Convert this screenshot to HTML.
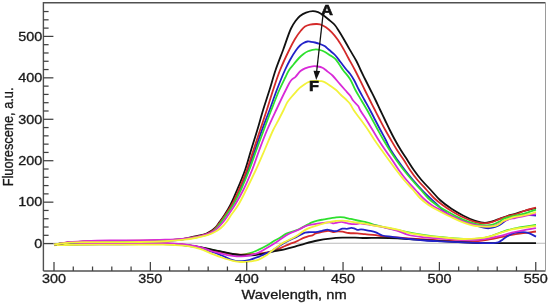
<!DOCTYPE html>
<html><head><meta charset="utf-8"><style>
html,body{margin:0;padding:0;background:#fff;}
svg{display:block;will-change:transform;}
.t{font-family:"Liberation Sans",sans-serif;font-size:12px;fill:#1a1a1a;stroke:#1a1a1a;stroke-width:0.3px;}
.t13{font-family:"Liberation Sans",sans-serif;font-size:12.8px;fill:#1a1a1a;stroke:#1a1a1a;stroke-width:0.3px;}
.b{font-family:"Liberation Sans",sans-serif;font-size:14.5px;font-weight:bold;fill:#111;stroke:#111;stroke-width:0.6px;}
</style></head><body>
<svg width="550" height="304" viewBox="0 0 550 304">
<rect width="550" height="304" fill="#fff"/>
<line x1="43.4" y1="243.25" x2="545.5" y2="243.25" stroke="#a8a8a8" stroke-width="0.8"/>
<path d="M54.00,245.14 C56.67,245.03 58.80,244.92 62.00,244.81 C66.80,244.65 73.24,244.45 80.00,244.32 C88.73,244.15 100.00,244.07 110.00,244.00 C120.00,243.93 130.77,243.92 140.00,243.90 C147.90,243.89 155.63,243.80 162.00,243.90 C166.90,243.98 170.67,244.03 175.00,244.30 C179.34,244.57 183.76,244.99 188.00,245.50 C192.09,245.99 196.11,246.58 200.00,247.30 C203.73,247.99 207.26,248.93 210.90,249.70 C214.53,250.47 218.17,251.12 221.80,251.90 C225.44,252.68 229.25,253.93 232.70,254.40 C235.74,254.82 238.52,255.00 241.40,254.80 C244.29,254.60 247.21,254.01 250.00,253.20 C252.81,252.38 255.49,251.12 258.20,249.90 C260.96,248.66 263.70,247.33 266.40,245.80 C269.20,244.21 272.27,241.89 274.70,240.50 C276.52,239.46 277.86,239.00 279.60,238.00 C281.71,236.78 283.88,234.80 286.40,233.60 C289.16,232.29 292.80,231.71 295.60,230.60 C298.07,229.62 300.26,228.48 302.40,227.40 C304.37,226.41 306.39,225.28 308.00,224.40 C309.23,223.73 309.96,223.16 311.25,222.60 C312.97,221.86 315.38,221.13 317.50,220.60 C319.63,220.07 321.88,219.79 324.00,219.40 C326.04,219.02 328.09,218.61 330.00,218.30 C331.74,218.02 333.33,217.80 335.00,217.60 C336.66,217.40 338.43,217.12 340.00,217.10 C341.41,217.08 342.62,217.18 344.00,217.40 C345.53,217.65 347.20,218.28 348.75,218.60 C350.20,218.90 351.57,218.99 353.00,219.30 C354.49,219.62 355.80,220.13 357.50,220.50 C359.67,220.98 362.77,221.27 365.00,221.80 C366.85,222.24 368.27,222.76 370.00,223.30 C371.89,223.89 373.50,224.53 375.90,225.20 C379.58,226.22 384.97,227.38 390.00,228.50 C395.76,229.78 402.58,231.27 408.60,232.40 C414.23,233.45 419.49,234.30 425.00,235.10 C430.56,235.90 435.83,236.59 441.80,237.20 C448.59,237.89 456.85,238.74 463.60,238.90 C469.45,239.04 475.32,238.94 480.00,238.40 C483.56,237.99 486.09,237.40 489.30,236.50 C492.89,235.50 496.74,233.75 500.50,232.50 C504.25,231.25 508.01,229.95 511.80,229.00 C515.54,228.06 519.20,227.45 523.10,226.80 C527.25,226.11 531.70,225.60 536.00,225.00" fill="none" stroke="#2ee02e" stroke-width="1.8" stroke-linejoin="round" stroke-linecap="butt"/>
<path d="M54.00,245.06 C56.67,244.94 58.80,244.82 62.00,244.69 C66.80,244.50 73.24,244.25 80.00,244.08 C88.73,243.86 100.00,243.70 110.00,243.60 C120.00,243.50 130.77,243.52 140.00,243.50 C147.90,243.49 155.63,243.40 162.00,243.50 C166.90,243.58 170.67,243.63 175.00,243.90 C179.34,244.17 183.77,244.50 188.00,245.10 C192.09,245.68 196.10,246.60 200.00,247.40 C203.73,248.17 207.26,249.03 210.90,249.80 C214.53,250.57 218.17,251.27 221.80,252.00 C225.43,252.73 229.26,253.78 232.70,254.20 C235.75,254.58 238.51,254.55 241.40,254.60 C244.27,254.65 247.39,254.62 250.00,254.50 C252.18,254.40 253.98,254.21 256.00,254.00 C258.08,253.78 260.07,253.56 262.30,253.20 C264.86,252.79 267.78,252.34 270.50,251.60 C273.29,250.85 276.31,249.68 278.80,248.70 C280.90,247.88 282.62,247.02 284.50,246.20 C286.35,245.39 288.15,244.53 290.00,243.80 C291.85,243.07 293.83,242.54 295.60,241.80 C297.26,241.10 298.73,240.24 300.30,239.50 C301.86,238.77 303.60,237.97 305.00,237.40 C306.10,236.95 306.89,236.63 308.00,236.30 C309.34,235.91 311.25,235.80 312.50,235.30 C313.49,234.90 314.14,234.19 315.00,233.80 C315.81,233.43 316.54,233.28 317.50,233.00 C318.78,232.63 320.45,232.13 322.00,231.80 C323.61,231.46 325.54,231.09 327.00,231.00 C328.12,230.93 328.94,230.96 330.00,231.10 C331.24,231.26 332.66,231.97 334.00,232.00 C335.33,232.03 336.62,231.36 338.00,231.30 C339.45,231.24 340.88,231.46 342.50,231.70 C344.42,231.98 346.49,232.71 348.75,233.00 C351.39,233.33 354.61,233.19 357.40,233.40 C360.02,233.60 362.24,233.93 365.00,234.20 C368.31,234.53 372.89,234.76 375.90,235.20 C378.05,235.51 379.15,235.98 381.40,236.30 C384.91,236.79 390.47,237.05 395.00,237.40 C399.53,237.75 403.85,238.07 408.60,238.40 C413.81,238.77 420.03,239.18 425.00,239.50 C429.14,239.77 431.91,239.97 436.40,240.20 C442.85,240.53 452.66,241.07 460.00,241.20 C466.40,241.32 472.71,241.51 478.00,241.10 C482.22,240.77 485.55,240.05 489.30,239.40 C493.05,238.75 496.76,237.95 500.50,237.20 C504.26,236.45 508.02,235.57 511.80,234.90 C515.56,234.24 519.21,233.75 523.10,233.20 C527.26,232.61 531.70,232.07 536.00,231.50" fill="none" stroke="#d42a2a" stroke-width="1.8" stroke-linejoin="round" stroke-linecap="butt"/>
<path d="M54.00,245.10 C56.67,244.98 58.80,244.87 62.00,244.75 C66.80,244.57 73.24,244.35 80.00,244.20 C88.73,244.01 100.00,243.88 110.00,243.80 C120.00,243.72 130.77,243.72 140.00,243.70 C147.90,243.69 155.63,243.60 162.00,243.70 C166.90,243.78 170.67,243.83 175.00,244.10 C179.34,244.37 183.76,244.79 188.00,245.30 C192.09,245.79 196.11,246.38 200.00,247.10 C203.73,247.79 207.26,248.75 210.90,249.50 C214.53,250.25 218.17,250.85 221.80,251.60 C225.44,252.35 229.42,253.42 232.70,254.00 C235.37,254.48 237.51,254.77 240.00,255.00 C242.60,255.24 245.42,255.41 248.00,255.40 C250.41,255.39 252.76,255.21 255.00,255.00 C257.08,254.80 259.06,254.51 261.00,254.20 C262.85,253.91 264.42,253.63 266.40,253.20 C268.88,252.66 271.81,251.73 274.70,251.10 C277.82,250.42 281.19,250.03 284.50,249.30 C287.95,248.54 291.55,247.56 295.00,246.60 C298.38,245.66 301.47,244.57 305.00,243.60 C308.92,242.53 313.31,241.34 317.50,240.50 C321.65,239.67 325.82,239.07 330.00,238.60 C334.16,238.14 338.33,237.87 342.50,237.70 C346.66,237.53 351.07,237.54 355.00,237.60 C358.52,237.66 361.45,237.94 365.00,238.00 C369.05,238.07 373.22,237.86 378.00,237.90 C383.89,237.95 392.10,238.12 397.70,238.40 C401.87,238.61 404.60,238.94 408.60,239.20 C413.51,239.51 419.26,239.76 425.00,240.10 C431.34,240.48 438.45,241.01 445.00,241.40 C451.31,241.77 457.59,242.13 463.60,242.40 C469.24,242.65 474.41,242.87 480.00,243.00 C485.86,243.13 490.89,243.12 498.00,243.15 C508.33,243.19 523.33,243.15 536.00,243.15" fill="none" stroke="#111111" stroke-width="1.8" stroke-linejoin="round" stroke-linecap="butt"/>
<path d="M54.00,245.20 C56.67,245.10 58.80,245.00 62.00,244.90 C66.80,244.76 73.24,244.60 80.00,244.50 C88.73,244.37 100.00,244.35 110.00,244.30 C120.00,244.25 130.77,244.22 140.00,244.20 C147.90,244.19 155.63,244.10 162.00,244.20 C166.90,244.28 170.67,244.33 175.00,244.60 C179.34,244.87 183.77,245.22 188.00,245.80 C192.09,246.36 196.13,247.03 200.00,248.00 C203.75,248.94 207.28,250.25 210.90,251.50 C214.55,252.75 218.19,254.06 221.80,255.50 C225.45,256.96 229.64,259.27 232.70,260.20 C234.80,260.84 236.26,261.08 238.20,261.20 C240.34,261.33 242.92,261.07 245.00,260.80 C246.80,260.57 248.15,260.31 250.00,259.80 C252.42,259.13 255.94,257.74 258.20,256.90 C259.81,256.30 260.95,255.91 262.30,255.30 C263.68,254.68 265.00,253.74 266.40,253.20 C267.74,252.68 269.18,252.73 270.50,252.10 C271.96,251.40 273.05,250.15 274.70,249.00 C276.96,247.42 280.23,245.17 282.90,243.60 C285.31,242.18 287.63,241.08 290.00,239.90 C292.33,238.74 295.00,237.60 297.00,236.60 C298.53,235.84 299.66,235.17 301.00,234.50 C302.33,233.84 303.55,232.99 305.00,232.60 C306.54,232.19 308.16,232.32 310.00,232.20 C312.25,232.05 315.33,232.10 317.50,231.80 C319.20,231.57 320.42,231.15 322.00,230.80 C323.74,230.42 325.88,229.57 327.50,229.60 C328.80,229.62 329.71,230.26 331.00,230.50 C332.56,230.79 334.80,231.29 336.25,231.10 C337.34,230.95 338.03,230.39 339.00,230.00 C340.10,229.56 341.24,228.81 342.50,228.60 C343.88,228.37 345.53,228.92 347.00,228.80 C348.44,228.68 349.98,227.94 351.25,227.90 C352.26,227.87 353.05,228.03 354.00,228.30 C355.12,228.61 356.31,229.64 357.50,229.80 C358.65,229.95 359.79,229.30 361.00,229.30 C362.29,229.30 363.59,229.67 365.00,229.90 C366.58,230.16 368.27,230.41 370.00,230.80 C371.89,231.23 373.92,231.67 375.90,232.40 C378.05,233.20 379.94,234.77 382.40,235.50 C385.30,236.36 388.92,236.35 392.30,236.80 C395.85,237.28 399.56,237.85 403.20,238.30 C406.83,238.75 410.47,239.13 414.10,239.50 C417.73,239.87 420.97,240.21 425.00,240.50 C429.99,240.86 435.84,241.10 441.80,241.40 C448.59,241.74 457.08,242.16 463.60,242.40 C468.89,242.59 473.49,242.66 478.00,242.80 C481.99,242.93 485.75,243.31 489.30,243.20 C492.47,243.10 495.89,243.14 498.30,242.30 C500.15,241.65 501.15,240.48 502.80,239.40 C504.84,238.07 507.38,236.05 509.60,234.90 C511.50,233.91 513.13,233.17 515.20,232.70 C517.57,232.16 520.70,231.96 523.10,232.10 C525.14,232.22 526.75,232.56 528.70,233.20 C531.02,233.95 533.57,235.47 536.00,236.60" fill="none" stroke="#2222c8" stroke-width="1.8" stroke-linejoin="round" stroke-linecap="butt"/>
<path d="M54.00,245.00 C56.67,244.87 58.80,244.74 62.00,244.60 C66.80,244.39 73.24,244.10 80.00,243.90 C88.73,243.64 100.00,243.42 110.00,243.30 C120.00,243.18 130.77,243.22 140.00,243.20 C147.90,243.19 155.63,243.10 162.00,243.20 C166.90,243.28 170.67,243.33 175.00,243.60 C179.34,243.87 183.77,244.20 188.00,244.80 C192.09,245.38 196.14,246.05 200.00,247.10 C203.76,248.13 207.24,249.89 210.90,251.00 C214.51,252.09 218.16,252.88 221.80,253.70 C225.42,254.51 229.26,255.46 232.70,255.90 C235.75,256.29 238.51,256.50 241.40,256.40 C244.28,256.30 247.19,255.90 250.00,255.30 C252.79,254.70 255.52,253.93 258.20,252.80 C261.00,251.62 263.67,249.87 266.40,248.30 C269.17,246.70 272.13,244.96 274.70,243.30 C277.02,241.80 278.98,240.29 281.20,238.80 C283.48,237.26 285.78,235.51 288.20,234.20 C290.58,232.92 293.46,231.95 295.60,231.00 C297.26,230.26 298.50,229.75 300.00,229.00 C301.63,228.19 303.21,227.02 305.00,226.30 C306.87,225.54 308.95,225.05 311.00,224.60 C313.11,224.14 315.33,223.90 317.50,223.60 C319.66,223.30 321.87,223.00 324.00,222.80 C326.04,222.61 328.25,222.23 330.00,222.40 C331.41,222.54 332.54,223.39 333.75,223.40 C334.87,223.41 335.84,222.85 337.00,222.60 C338.32,222.31 339.88,221.78 341.25,221.80 C342.54,221.82 343.75,222.30 345.00,222.60 C346.25,222.90 347.33,223.34 348.75,223.60 C350.56,223.93 353.04,224.26 355.00,224.20 C356.76,224.14 358.33,223.40 360.00,223.40 C361.67,223.40 363.33,223.97 365.00,224.20 C366.66,224.43 368.14,224.53 370.00,224.80 C372.36,225.15 375.28,225.67 378.00,226.20 C380.87,226.76 383.72,227.39 386.80,228.10 C390.24,228.90 394.10,229.67 397.70,230.80 C401.37,231.96 404.53,233.95 408.60,235.00 C413.45,236.26 419.49,236.72 425.00,237.30 C430.56,237.89 435.83,238.11 441.80,238.50 C448.59,238.95 457.08,239.61 463.60,239.80 C468.89,239.96 473.50,240.12 478.00,239.80 C482.01,239.52 485.55,238.87 489.30,238.20 C493.05,237.53 496.77,236.71 500.50,235.80 C504.27,234.88 508.02,233.60 511.80,232.70 C515.55,231.80 519.20,231.14 523.10,230.40 C527.25,229.61 531.70,228.87 536.00,228.10" fill="none" stroke="#d82ad8" stroke-width="1.8" stroke-linejoin="round" stroke-linecap="butt"/>
<path d="M54.00,245.28 C56.67,245.19 58.80,245.10 62.00,245.02 C66.80,244.90 73.24,244.80 80.00,244.74 C88.73,244.67 100.00,244.72 110.00,244.70 C120.00,244.68 130.77,244.62 140.00,244.60 C147.90,244.59 155.63,244.50 162.00,244.60 C166.90,244.68 170.67,244.73 175.00,245.00 C179.34,245.27 183.77,245.53 188.00,246.20 C192.10,246.85 196.14,247.70 200.00,248.90 C203.77,250.08 207.26,251.86 210.90,253.30 C214.53,254.73 218.14,256.24 221.80,257.50 C225.41,258.74 229.24,260.04 232.70,260.80 C235.74,261.46 238.50,261.90 241.40,262.00 C244.27,262.10 247.18,261.77 250.00,261.40 C252.78,261.03 255.54,260.76 258.20,259.80 C261.01,258.78 264.19,256.78 266.40,255.30 C268.06,254.19 269.12,253.10 270.50,252.00 C271.89,250.90 273.05,249.93 274.70,248.70 C276.96,247.01 280.70,244.20 282.90,242.90 C284.27,242.09 284.96,241.92 286.40,241.20 C288.74,240.03 293.13,237.97 295.60,236.50 C297.37,235.45 298.50,234.53 300.00,233.50 C301.59,232.41 303.13,231.11 304.90,230.10 C306.78,229.03 308.90,228.08 311.00,227.30 C313.10,226.51 315.34,226.07 317.50,225.40 C319.67,224.73 321.87,223.91 324.00,223.30 C326.03,222.72 327.99,222.18 330.00,221.80 C331.99,221.42 333.96,221.20 336.00,221.00 C338.12,220.79 340.34,220.55 342.50,220.60 C344.67,220.65 346.88,221.01 349.00,221.30 C351.04,221.58 352.74,221.97 355.00,222.30 C357.91,222.73 361.60,223.04 365.00,223.60 C368.57,224.19 372.26,225.15 375.90,225.80 C379.53,226.45 383.17,226.85 386.80,227.50 C390.44,228.15 394.08,228.82 397.70,229.70 C401.35,230.59 404.57,231.89 408.60,232.80 C413.48,233.91 419.49,234.83 425.00,235.60 C430.55,236.37 435.83,236.86 441.80,237.40 C448.59,238.01 457.08,238.92 463.60,239.00 C468.89,239.07 473.50,238.75 478.00,238.30 C482.01,237.90 485.58,237.50 489.30,236.60 C493.08,235.68 496.75,234.00 500.50,232.80 C504.25,231.60 508.00,230.27 511.80,229.40 C515.54,228.54 519.20,228.17 523.10,227.60 C527.25,227.00 531.70,226.47 536.00,225.90" fill="none" stroke="#f2f23a" stroke-width="1.8" stroke-linejoin="round" stroke-linecap="butt"/>
<path d="M54.00,244.60 C56.00,244.27 57.74,243.94 60.00,243.60 C62.91,243.17 66.32,242.60 70.00,242.28 C74.49,241.89 79.36,241.79 85.00,241.62 C92.27,241.40 101.29,241.30 110.00,241.20 C119.54,241.09 130.46,241.16 140.00,241.00 C148.71,240.85 157.47,240.68 165.00,240.33 C171.21,240.04 176.74,239.96 182.00,239.22 C186.65,238.57 190.81,237.37 195.00,236.40 C198.96,235.49 203.51,234.77 206.50,233.60 C208.58,232.78 210.02,231.80 211.50,230.80 C212.81,229.92 213.84,229.20 215.00,228.00 C216.51,226.45 217.97,224.09 219.50,222.00 C221.14,219.77 222.82,217.58 224.50,215.00 C226.45,212.00 228.47,208.73 230.40,205.00 C232.69,200.56 234.82,195.38 237.10,190.00 C239.71,183.84 242.75,176.72 245.10,170.00 C247.41,163.38 249.07,156.66 251.10,150.00 C253.13,143.33 255.30,136.68 257.30,130.00 C259.30,123.34 261.07,116.65 263.10,110.00 C265.14,103.32 267.41,96.67 269.50,90.00 C271.58,83.34 273.35,76.63 275.60,70.00 C277.88,63.30 280.58,56.79 283.10,50.00 C285.71,42.97 288.49,33.74 291.00,28.50 C292.55,25.26 293.89,23.18 295.50,21.00 C296.91,19.09 298.26,17.39 300.00,16.00 C301.76,14.59 303.86,13.42 306.00,12.60 C308.18,11.77 310.86,11.09 313.00,11.10 C314.81,11.10 316.45,11.60 318.00,12.20 C319.51,12.78 320.68,13.58 322.20,14.60 C324.22,15.95 326.76,18.03 328.90,19.80 C330.96,21.50 333.09,23.04 334.80,25.00 C336.52,26.97 337.75,29.32 339.20,31.60 C340.72,33.98 342.12,36.31 343.70,39.00 C345.56,42.16 347.55,45.85 349.60,49.40 C351.77,53.17 354.48,57.34 356.40,61.00 C358.05,64.15 359.13,66.93 360.60,70.00 C362.16,73.25 363.85,76.67 365.50,80.00 C367.15,83.34 368.83,86.67 370.50,90.00 C372.17,93.33 373.88,96.66 375.50,100.00 C377.11,103.32 378.62,106.67 380.20,110.00 C381.78,113.34 383.40,116.67 385.00,120.00 C386.60,123.33 388.14,126.68 389.80,130.00 C391.47,133.35 393.18,136.69 395.00,140.00 C396.84,143.35 398.77,146.69 400.80,150.00 C402.86,153.36 405.13,156.67 407.30,160.00 C409.47,163.33 411.47,166.71 413.80,170.00 C416.20,173.38 418.73,176.73 421.50,180.00 C424.38,183.40 427.71,186.66 430.80,190.00 C433.88,193.33 436.62,196.91 440.00,200.00 C443.49,203.19 447.58,206.17 451.50,208.80 C455.26,211.32 459.11,213.50 463.00,215.50 C466.78,217.45 471.17,219.49 474.50,220.70 C476.94,221.58 478.86,222.17 481.00,222.50 C483.02,222.81 485.01,222.91 487.00,222.70 C489.02,222.49 490.94,221.84 493.00,221.20 C495.26,220.50 497.58,219.47 500.00,218.60 C502.57,217.67 505.32,216.64 508.00,215.80 C510.65,214.97 513.34,214.40 516.00,213.60 C518.68,212.80 521.05,211.85 524.00,211.00 C527.58,209.97 532.00,209.00 536.00,208.00" fill="none" stroke="#111111" stroke-width="1.8" stroke-linejoin="round" stroke-linecap="butt"/>
<path d="M54.00,244.60 C56.00,244.27 57.74,243.91 60.00,243.60 C62.90,243.20 66.32,242.78 70.00,242.52 C74.49,242.20 79.36,242.10 85.00,241.98 C92.27,241.82 101.29,241.86 110.00,241.80 C119.54,241.73 130.46,241.77 140.00,241.60 C148.71,241.44 157.47,241.27 165.00,240.87 C171.22,240.54 176.53,240.27 182.00,239.58 C187.17,238.92 192.41,237.91 197.00,236.90 C200.97,236.02 205.16,235.19 208.00,234.00 C209.97,233.17 211.32,232.25 212.70,231.20 C213.96,230.23 214.85,229.28 216.00,228.00 C217.48,226.35 219.12,224.09 220.70,222.00 C222.38,219.77 224.03,217.57 225.80,215.00 C227.87,211.99 230.14,208.73 232.30,205.00 C234.87,200.56 237.53,195.42 240.00,190.00 C242.79,183.87 245.49,176.69 248.00,170.00 C250.49,163.36 252.67,156.67 255.00,150.00 C257.33,143.33 259.57,136.65 262.00,130.00 C264.44,123.32 267.13,116.68 269.60,110.00 C272.06,103.34 274.25,96.64 276.80,90.00 C279.38,83.31 282.51,75.48 285.00,70.00 C286.79,66.06 288.16,63.29 290.00,60.00 C291.89,56.62 294.30,52.62 296.20,50.00 C297.55,48.14 298.68,46.72 300.00,45.50 C301.13,44.46 302.25,43.67 303.50,43.00 C304.75,42.34 306.19,41.68 307.50,41.50 C308.69,41.34 309.80,41.64 311.00,41.80 C312.29,41.97 313.60,42.17 315.00,42.50 C316.58,42.87 318.35,43.38 320.00,44.00 C321.69,44.64 323.59,45.39 325.00,46.30 C326.22,47.09 327.08,48.12 328.10,49.00 C329.08,49.85 329.96,50.59 331.00,51.50 C332.23,52.57 333.63,53.56 335.00,55.00 C336.77,56.87 338.62,59.59 340.50,62.00 C342.51,64.57 344.93,67.84 346.70,70.00 C347.95,71.52 348.90,72.33 350.00,73.80 C351.33,75.57 352.66,77.65 354.00,80.00 C355.65,82.90 357.26,86.68 359.00,90.00 C360.76,93.35 362.67,96.67 364.50,100.00 C366.33,103.33 368.21,106.66 370.00,110.00 C371.78,113.32 373.47,116.67 375.20,120.00 C376.93,123.33 378.64,126.67 380.40,130.00 C382.17,133.34 384.06,136.65 385.80,140.00 C387.53,143.32 388.89,146.73 390.80,150.00 C392.78,153.40 395.18,156.69 397.50,160.00 C399.85,163.36 402.25,166.70 404.80,170.00 C407.41,173.37 410.16,176.70 413.00,180.00 C415.89,183.37 419.05,186.89 422.00,190.00 C424.71,192.85 427.35,195.44 430.00,198.00 C432.52,200.43 434.84,202.57 437.50,205.00 C440.47,207.71 443.21,210.99 447.00,213.50 C451.47,216.45 458.06,218.99 463.00,221.00 C467.10,222.67 470.88,223.83 474.50,225.00 C477.70,226.03 480.87,227.18 483.60,227.70 C485.76,228.11 487.55,228.32 489.50,228.20 C491.45,228.08 493.50,227.60 495.30,227.00 C496.98,226.44 498.65,225.62 500.00,224.80 C501.16,224.10 501.84,223.33 503.00,222.50 C504.52,221.41 506.37,219.87 508.40,218.90 C510.65,217.82 513.41,217.23 516.00,216.50 C518.67,215.75 521.69,214.69 524.20,214.50 C526.29,214.34 528.05,214.82 530.00,215.00 C531.98,215.18 534.00,215.40 536.00,215.60" fill="none" stroke="#2222c8" stroke-width="1.8" stroke-linejoin="round" stroke-linecap="butt"/>
<path d="M54.00,244.60 C56.00,244.27 57.74,243.95 60.00,243.60 C62.91,243.15 66.32,242.51 70.00,242.16 C74.49,241.73 79.36,241.64 85.00,241.44 C92.27,241.19 101.29,241.02 110.00,240.90 C119.54,240.77 130.46,240.85 140.00,240.70 C148.71,240.56 157.47,240.38 165.00,240.06 C171.21,239.79 176.62,239.65 182.00,239.04 C186.91,238.48 191.60,237.63 196.00,236.70 C199.99,235.86 204.37,234.99 207.30,233.80 C209.34,232.97 210.76,232.03 212.20,231.00 C213.49,230.08 214.44,229.24 215.60,228.00 C217.09,226.40 218.65,224.09 220.20,222.00 C221.85,219.77 223.46,217.57 225.20,215.00 C227.24,211.99 229.52,208.74 231.60,205.00 C234.07,200.57 236.43,195.40 238.80,190.00 C241.50,183.85 244.34,176.70 246.80,170.00 C249.23,163.37 251.28,156.67 253.50,150.00 C255.72,143.34 257.88,136.66 260.10,130.00 C262.32,123.33 264.63,116.68 266.80,110.00 C268.96,103.34 270.89,96.65 273.10,90.00 C275.32,83.32 277.45,76.61 280.10,70.00 C282.80,63.27 286.43,55.64 289.20,50.00 C291.28,45.75 292.93,42.37 295.00,39.00 C296.89,35.92 299.11,32.74 301.00,30.50 C302.39,28.85 303.47,27.49 305.00,26.50 C306.48,25.54 308.23,25.02 310.00,24.60 C311.88,24.16 314.20,24.02 316.00,24.00 C317.47,23.98 318.58,23.91 320.00,24.30 C321.82,24.80 324.01,25.94 325.90,27.20 C327.96,28.58 329.90,30.42 331.80,32.40 C333.89,34.57 335.89,37.11 337.80,39.80 C339.88,42.73 341.91,46.28 343.70,49.40 C345.35,52.27 346.54,54.74 348.20,57.80 C350.20,61.49 352.71,65.83 354.90,70.00 C357.15,74.29 359.69,79.52 361.50,83.20 C362.80,85.83 363.58,87.52 364.80,90.00 C366.29,93.02 368.12,96.67 369.80,100.00 C371.48,103.34 373.20,106.67 374.90,110.00 C376.60,113.33 378.27,116.67 380.00,120.00 C381.74,123.34 383.47,126.68 385.30,130.00 C387.14,133.35 389.06,136.68 391.00,140.00 C392.96,143.34 394.89,146.70 397.00,150.00 C399.15,153.36 401.62,156.64 403.80,160.00 C405.95,163.31 407.76,166.72 410.00,170.00 C412.31,173.39 414.78,176.73 417.50,180.00 C420.33,183.41 423.81,186.85 426.70,190.00 C429.28,192.81 431.38,195.51 434.00,198.00 C436.64,200.51 439.57,202.84 442.50,205.00 C445.40,207.14 448.28,208.95 451.50,210.90 C455.06,213.06 459.11,215.45 463.00,217.30 C466.78,219.10 470.83,220.88 474.50,221.90 C477.69,222.79 480.73,223.38 483.70,223.40 C486.48,223.42 489.14,222.94 491.80,222.20 C494.57,221.43 497.27,219.84 500.00,218.80 C502.67,217.78 505.29,216.80 508.00,216.00 C510.72,215.20 513.59,214.84 516.30,214.00 C518.99,213.17 521.28,211.98 524.20,211.00 C527.72,209.81 532.07,208.67 536.00,207.50" fill="none" stroke="#d42a2a" stroke-width="1.8" stroke-linejoin="round" stroke-linecap="butt"/>
<path d="M54.00,244.60 C56.00,244.27 57.74,243.92 60.00,243.60 C62.91,243.18 66.32,242.69 70.00,242.40 C74.49,242.04 79.36,241.95 85.00,241.80 C92.27,241.61 101.29,241.58 110.00,241.50 C119.54,241.41 130.46,241.47 140.00,241.30 C148.71,241.15 157.47,240.97 165.00,240.60 C171.21,240.29 176.43,240.01 182.00,239.40 C187.43,238.80 193.24,237.98 198.00,237.00 C201.92,236.19 205.86,235.39 208.60,234.20 C210.53,233.36 211.85,232.38 213.20,231.30 C214.45,230.30 215.34,229.30 216.50,228.00 C217.99,226.33 219.70,224.10 221.30,222.00 C223.00,219.77 224.61,217.56 226.40,215.00 C228.51,211.98 230.90,208.74 233.10,205.00 C235.71,200.57 238.28,195.41 240.80,190.00 C243.66,183.86 246.59,176.70 249.20,170.00 C251.78,163.37 253.97,156.66 256.40,150.00 C258.84,143.33 261.32,136.66 263.80,130.00 C266.28,123.33 268.72,116.65 271.30,110.00 C273.89,103.32 276.77,95.79 279.30,90.00 C281.29,85.46 283.23,81.58 285.00,78.00 C286.46,75.05 287.58,72.35 289.10,70.00 C290.45,67.92 291.94,66.40 293.50,64.50 C295.22,62.41 297.19,59.85 299.00,58.00 C300.52,56.44 301.94,55.14 303.50,54.00 C304.95,52.93 306.46,51.99 308.00,51.30 C309.46,50.65 311.08,50.22 312.50,49.90 C313.73,49.62 314.79,49.40 316.00,49.40 C317.29,49.40 318.62,49.62 320.00,50.00 C321.60,50.43 323.37,51.16 325.00,52.00 C326.71,52.88 328.34,54.09 330.00,55.20 C331.68,56.32 333.52,57.28 335.00,58.70 C336.54,60.19 337.69,62.16 339.00,64.00 C340.36,65.92 341.44,67.83 343.00,70.00 C344.97,72.73 347.96,75.74 350.00,79.00 C352.12,82.38 353.50,86.45 355.40,90.00 C357.24,93.45 359.25,96.67 361.20,100.00 C363.15,103.34 365.21,106.65 367.10,110.00 C368.97,113.32 370.70,116.67 372.50,120.00 C374.30,123.33 376.07,126.67 377.90,130.00 C379.74,133.34 381.56,136.68 383.50,140.00 C385.46,143.35 387.48,146.69 389.60,150.00 C391.75,153.36 393.97,156.69 396.30,160.00 C398.67,163.36 401.11,166.70 403.70,170.00 C406.34,173.37 409.14,176.70 412.00,180.00 C414.91,183.36 418.20,186.84 421.00,190.00 C423.49,192.81 425.44,195.52 428.00,198.00 C430.60,200.53 433.16,202.67 436.50,205.00 C440.70,207.93 446.79,211.24 451.50,213.80 C455.55,216.01 459.11,217.95 463.00,219.60 C466.78,221.20 470.62,222.65 474.50,223.60 C478.29,224.53 482.81,225.20 486.00,225.30 C488.26,225.37 489.74,225.31 491.80,224.80 C494.34,224.16 497.94,222.46 500.00,221.30 C501.37,220.53 501.92,219.66 503.20,219.00 C504.80,218.17 506.94,217.58 509.00,217.00 C511.28,216.36 513.65,216.02 516.30,215.40 C519.49,214.66 523.44,213.80 526.80,212.80 C529.99,211.85 532.93,210.67 536.00,209.60" fill="none" stroke="#2ee02e" stroke-width="1.8" stroke-linejoin="round" stroke-linecap="butt"/>
<path d="M54.00,244.60 C56.00,244.27 57.75,243.97 60.00,243.60 C62.91,243.12 66.32,242.39 70.00,242.00 C74.48,241.52 79.36,241.43 85.00,241.20 C92.27,240.90 101.29,240.65 110.00,240.50 C119.54,240.33 130.46,240.45 140.00,240.30 C148.71,240.17 157.47,239.99 165.00,239.70 C171.21,239.46 176.72,239.24 182.00,238.80 C186.63,238.41 190.82,238.06 195.00,237.30 C198.98,236.57 203.12,235.58 206.50,234.40 C209.32,233.42 212.00,232.24 214.00,231.00 C215.52,230.06 216.39,229.23 217.70,228.00 C219.41,226.39 221.47,224.13 223.20,222.00 C224.98,219.81 226.43,217.56 228.20,215.00 C230.29,211.98 232.62,208.72 234.90,205.00 C237.63,200.55 240.59,195.43 243.30,190.00 C246.35,183.88 249.42,176.71 252.10,170.00 C254.74,163.38 256.81,156.65 259.30,150.00 C261.81,143.32 264.30,136.63 267.10,130.00 C269.93,123.29 273.09,116.65 276.20,110.00 C279.32,103.32 283.02,95.41 285.80,90.00 C287.74,86.22 289.09,82.81 291.00,80.50 C292.40,78.81 294.02,78.24 295.50,76.80 C297.20,75.14 298.75,72.47 300.50,71.00 C301.95,69.78 303.25,69.04 305.00,68.30 C307.13,67.40 310.18,66.56 312.50,66.30 C314.46,66.08 316.27,66.22 318.00,66.50 C319.59,66.75 321.09,67.11 322.50,67.80 C323.97,68.52 325.12,69.67 326.60,70.80 C328.40,72.18 330.57,73.65 332.50,75.50 C334.71,77.62 336.87,80.54 339.00,83.00 C341.06,85.38 343.17,87.81 345.10,90.00 C346.82,91.95 348.59,93.62 350.00,95.50 C351.29,97.23 351.99,99.10 353.30,100.80 C354.70,102.61 357.03,104.29 358.20,106.00 C359.12,107.35 359.21,108.40 360.10,110.00 C361.55,112.62 364.41,116.66 366.50,120.00 C368.58,123.32 370.58,126.66 372.60,130.00 C374.61,133.33 376.52,136.69 378.60,140.00 C380.71,143.36 382.94,146.68 385.20,150.00 C387.48,153.35 389.92,156.65 392.20,160.00 C394.46,163.32 396.45,166.71 398.80,170.00 C401.21,173.38 403.75,176.72 406.50,180.00 C409.34,183.39 412.72,186.86 415.60,190.00 C418.19,192.82 420.36,195.51 423.00,198.00 C425.66,200.51 428.58,202.99 431.50,205.00 C434.25,206.89 436.95,208.10 440.00,209.80 C443.54,211.77 447.63,214.17 451.50,216.10 C455.30,218.00 459.12,219.84 463.00,221.30 C466.79,222.73 470.63,223.93 474.50,224.80 C478.30,225.65 482.40,226.43 486.00,226.50 C489.18,226.56 492.16,226.34 495.00,225.50 C497.82,224.67 500.39,222.61 503.00,221.50 C505.38,220.48 507.84,219.58 510.00,219.00 C511.79,218.52 513.10,218.49 515.00,218.10 C517.57,217.57 520.77,216.63 524.00,216.00 C527.70,215.28 532.00,214.73 536.00,214.10" fill="none" stroke="#d82ad8" stroke-width="1.8" stroke-linejoin="round" stroke-linecap="butt"/>
<path d="M54.00,244.60 C56.00,244.27 57.74,243.89 60.00,243.60 C62.90,243.22 66.33,242.91 70.00,242.68 C74.49,242.40 79.36,242.31 85.00,242.22 C92.27,242.11 101.29,242.23 110.00,242.20 C119.54,242.16 130.46,242.18 140.00,242.00 C148.71,241.84 157.47,241.66 165.00,241.23 C171.22,240.88 176.72,240.41 182.00,239.82 C186.63,239.30 190.82,238.78 195.00,238.00 C198.97,237.26 203.07,236.38 206.50,235.30 C209.39,234.39 211.86,233.45 214.30,232.20 C216.65,231.00 218.89,229.67 220.90,228.00 C222.96,226.29 224.81,224.15 226.50,222.00 C228.21,219.82 229.38,217.52 231.10,215.00 C233.19,211.95 235.89,208.76 238.20,205.00 C240.91,200.58 243.38,195.38 246.10,190.00 C249.22,183.84 252.70,176.70 255.80,170.00 C258.87,163.36 261.70,156.67 264.60,150.00 C267.50,143.34 270.58,135.48 273.20,130.00 C275.09,126.05 276.76,123.34 278.50,120.00 C280.23,116.67 282.03,113.15 283.60,110.00 C285.00,107.19 286.11,104.23 287.50,102.00 C288.61,100.22 289.70,99.07 291.00,97.50 C292.49,95.69 294.41,93.54 296.00,91.80 C297.39,90.28 298.60,88.80 300.00,87.60 C301.28,86.50 302.70,85.68 304.00,84.80 C305.20,83.99 306.29,83.09 307.50,82.50 C308.63,81.94 309.82,81.57 311.00,81.30 C312.15,81.04 313.29,80.98 314.50,80.90 C315.79,80.81 317.26,80.73 318.50,80.80 C319.57,80.86 320.47,80.96 321.50,81.20 C322.63,81.47 323.72,81.78 325.00,82.40 C326.78,83.27 329.10,84.99 331.00,86.30 C332.79,87.53 334.47,88.60 336.10,90.00 C337.81,91.48 339.33,93.40 341.00,95.00 C342.63,96.57 344.45,98.00 346.00,99.50 C347.44,100.90 348.79,102.07 350.00,103.70 C351.35,105.52 352.10,107.71 353.60,110.00 C355.56,113.00 358.58,116.65 361.00,120.00 C363.41,123.32 365.83,126.64 368.10,130.00 C370.33,133.31 372.27,136.69 374.50,140.00 C376.77,143.36 379.22,146.67 381.60,150.00 C383.99,153.34 386.37,156.67 388.80,160.00 C391.24,163.34 393.68,166.68 396.20,170.00 C398.75,173.35 401.22,176.72 404.00,180.00 C406.88,183.39 410.39,186.83 413.20,190.00 C415.67,192.79 417.49,195.53 420.00,198.00 C422.57,200.53 425.35,202.84 428.50,205.00 C431.95,207.37 436.14,209.44 440.00,211.50 C443.81,213.54 447.64,215.47 451.50,217.30 C455.31,219.10 459.12,220.96 463.00,222.40 C466.79,223.81 470.63,225.19 474.50,225.90 C478.29,226.60 482.37,226.73 486.00,226.70 C489.27,226.67 492.78,226.62 495.30,225.90 C497.19,225.36 498.62,224.38 500.00,223.50 C501.21,222.73 501.87,221.76 503.20,221.00 C504.99,219.97 507.78,219.03 510.00,218.30 C512.04,217.62 513.70,217.22 516.00,216.70 C519.06,216.01 523.36,215.48 526.80,214.70 C530.01,213.97 532.93,213.03 536.00,212.20" fill="none" stroke="#f2f23a" stroke-width="1.8" stroke-linejoin="round" stroke-linecap="butt"/>
<path d="M43.4,271.0 L43.4,2.8 L545.5,2.8" fill="none" stroke="#505050" stroke-width="1.4"/>
<path d="M43.4,271.0 L545.5,271.0" fill="none" stroke="#505050" stroke-width="1.3"/>
<path d="M545.5,2.8 L545.5,271.0" fill="none" stroke="#9a9a9a" stroke-width="1"/>
<line x1="43.4" y1="243.60" x2="53.4" y2="243.60" stroke="#404040" stroke-width="1.25"/>
<text x="0" y="0" transform="translate(42.3,247.90) scale(1.2,1)" text-anchor="end" class="t">0</text>
<line x1="43.4" y1="235.31" x2="48.6" y2="235.31" stroke="#404040" stroke-width="1.25"/>
<line x1="43.4" y1="227.02" x2="48.6" y2="227.02" stroke="#404040" stroke-width="1.25"/>
<line x1="43.4" y1="218.74" x2="48.6" y2="218.74" stroke="#404040" stroke-width="1.25"/>
<line x1="43.4" y1="210.45" x2="48.6" y2="210.45" stroke="#404040" stroke-width="1.25"/>
<line x1="43.4" y1="202.16" x2="53.4" y2="202.16" stroke="#404040" stroke-width="1.25"/>
<text x="0" y="0" transform="translate(42.3,206.46) scale(1.2,1)" text-anchor="end" class="t">100</text>
<line x1="43.4" y1="193.87" x2="48.6" y2="193.87" stroke="#404040" stroke-width="1.25"/>
<line x1="43.4" y1="185.58" x2="48.6" y2="185.58" stroke="#404040" stroke-width="1.25"/>
<line x1="43.4" y1="177.30" x2="48.6" y2="177.30" stroke="#404040" stroke-width="1.25"/>
<line x1="43.4" y1="169.01" x2="48.6" y2="169.01" stroke="#404040" stroke-width="1.25"/>
<line x1="43.4" y1="160.72" x2="53.4" y2="160.72" stroke="#404040" stroke-width="1.25"/>
<text x="0" y="0" transform="translate(42.3,165.02) scale(1.2,1)" text-anchor="end" class="t">200</text>
<line x1="43.4" y1="152.43" x2="48.6" y2="152.43" stroke="#404040" stroke-width="1.25"/>
<line x1="43.4" y1="144.14" x2="48.6" y2="144.14" stroke="#404040" stroke-width="1.25"/>
<line x1="43.4" y1="135.86" x2="48.6" y2="135.86" stroke="#404040" stroke-width="1.25"/>
<line x1="43.4" y1="127.57" x2="48.6" y2="127.57" stroke="#404040" stroke-width="1.25"/>
<line x1="43.4" y1="119.28" x2="53.4" y2="119.28" stroke="#404040" stroke-width="1.25"/>
<text x="0" y="0" transform="translate(42.3,123.58) scale(1.2,1)" text-anchor="end" class="t">300</text>
<line x1="43.4" y1="110.99" x2="48.6" y2="110.99" stroke="#404040" stroke-width="1.25"/>
<line x1="43.4" y1="102.70" x2="48.6" y2="102.70" stroke="#404040" stroke-width="1.25"/>
<line x1="43.4" y1="94.42" x2="48.6" y2="94.42" stroke="#404040" stroke-width="1.25"/>
<line x1="43.4" y1="86.13" x2="48.6" y2="86.13" stroke="#404040" stroke-width="1.25"/>
<line x1="43.4" y1="77.84" x2="53.4" y2="77.84" stroke="#404040" stroke-width="1.25"/>
<text x="0" y="0" transform="translate(42.3,82.14) scale(1.2,1)" text-anchor="end" class="t">400</text>
<line x1="43.4" y1="69.55" x2="48.6" y2="69.55" stroke="#404040" stroke-width="1.25"/>
<line x1="43.4" y1="61.26" x2="48.6" y2="61.26" stroke="#404040" stroke-width="1.25"/>
<line x1="43.4" y1="52.98" x2="48.6" y2="52.98" stroke="#404040" stroke-width="1.25"/>
<line x1="43.4" y1="44.69" x2="48.6" y2="44.69" stroke="#404040" stroke-width="1.25"/>
<line x1="43.4" y1="36.40" x2="53.4" y2="36.40" stroke="#404040" stroke-width="1.25"/>
<text x="0" y="0" transform="translate(42.3,40.70) scale(1.2,1)" text-anchor="end" class="t">500</text>
<line x1="43.4" y1="28.11" x2="48.6" y2="28.11" stroke="#404040" stroke-width="1.25"/>
<line x1="43.4" y1="19.82" x2="48.6" y2="19.82" stroke="#404040" stroke-width="1.25"/>
<line x1="43.4" y1="11.54" x2="48.6" y2="11.54" stroke="#404040" stroke-width="1.25"/>
<line x1="54.00" y1="271.0" x2="54.00" y2="262.0" stroke="#404040" stroke-width="1.25"/>
<text x="0" y="0" transform="translate(54.00,282.9) scale(1.2,1)" text-anchor="middle" class="t">300</text>
<line x1="73.27" y1="271.0" x2="73.27" y2="266.5" stroke="#404040" stroke-width="1.25"/>
<line x1="92.54" y1="271.0" x2="92.54" y2="266.5" stroke="#404040" stroke-width="1.25"/>
<line x1="111.81" y1="271.0" x2="111.81" y2="266.5" stroke="#404040" stroke-width="1.25"/>
<line x1="131.08" y1="271.0" x2="131.08" y2="266.5" stroke="#404040" stroke-width="1.25"/>
<line x1="150.35" y1="271.0" x2="150.35" y2="262.0" stroke="#404040" stroke-width="1.25"/>
<text x="0" y="0" transform="translate(150.35,282.9) scale(1.2,1)" text-anchor="middle" class="t">350</text>
<line x1="169.62" y1="271.0" x2="169.62" y2="266.5" stroke="#404040" stroke-width="1.25"/>
<line x1="188.89" y1="271.0" x2="188.89" y2="266.5" stroke="#404040" stroke-width="1.25"/>
<line x1="208.16" y1="271.0" x2="208.16" y2="266.5" stroke="#404040" stroke-width="1.25"/>
<line x1="227.43" y1="271.0" x2="227.43" y2="266.5" stroke="#404040" stroke-width="1.25"/>
<line x1="246.70" y1="271.0" x2="246.70" y2="262.0" stroke="#404040" stroke-width="1.25"/>
<text x="0" y="0" transform="translate(246.70,282.9) scale(1.2,1)" text-anchor="middle" class="t">400</text>
<line x1="265.97" y1="271.0" x2="265.97" y2="266.5" stroke="#404040" stroke-width="1.25"/>
<line x1="285.24" y1="271.0" x2="285.24" y2="266.5" stroke="#404040" stroke-width="1.25"/>
<line x1="304.51" y1="271.0" x2="304.51" y2="266.5" stroke="#404040" stroke-width="1.25"/>
<line x1="323.78" y1="271.0" x2="323.78" y2="266.5" stroke="#404040" stroke-width="1.25"/>
<line x1="343.05" y1="271.0" x2="343.05" y2="262.0" stroke="#404040" stroke-width="1.25"/>
<text x="0" y="0" transform="translate(343.05,282.9) scale(1.2,1)" text-anchor="middle" class="t">450</text>
<line x1="362.32" y1="271.0" x2="362.32" y2="266.5" stroke="#404040" stroke-width="1.25"/>
<line x1="381.59" y1="271.0" x2="381.59" y2="266.5" stroke="#404040" stroke-width="1.25"/>
<line x1="400.86" y1="271.0" x2="400.86" y2="266.5" stroke="#404040" stroke-width="1.25"/>
<line x1="420.13" y1="271.0" x2="420.13" y2="266.5" stroke="#404040" stroke-width="1.25"/>
<line x1="439.40" y1="271.0" x2="439.40" y2="262.0" stroke="#404040" stroke-width="1.25"/>
<text x="0" y="0" transform="translate(439.40,282.9) scale(1.2,1)" text-anchor="middle" class="t">500</text>
<line x1="458.67" y1="271.0" x2="458.67" y2="266.5" stroke="#404040" stroke-width="1.25"/>
<line x1="477.94" y1="271.0" x2="477.94" y2="266.5" stroke="#404040" stroke-width="1.25"/>
<line x1="497.21" y1="271.0" x2="497.21" y2="266.5" stroke="#404040" stroke-width="1.25"/>
<line x1="516.48" y1="271.0" x2="516.48" y2="266.5" stroke="#404040" stroke-width="1.25"/>
<line x1="535.75" y1="271.0" x2="535.75" y2="262.0" stroke="#404040" stroke-width="1.25"/>
<text x="0" y="0" transform="translate(535.75,282.9) scale(1.2,1)" text-anchor="middle" class="t">550</text>
<text x="0" y="0" transform="translate(294,299.4) scale(1.22,1)" text-anchor="middle" class="t">Wavelength, nm</text>
<text x="0" y="0" transform="translate(13.4,136.9) scale(1.17,1) rotate(-90)" text-anchor="middle" class="t13">Fluorescene, a.u.</text>
<line x1="323.1" y1="14" x2="316.6" y2="72" stroke="#111" stroke-width="1.3"/>
<path d="M313.5,70.7 L320.2,70.9 L316.2,80 Z" fill="#111"/>
<text x="0" y="0" transform="translate(321.0,14.8) scale(1.14,1)" class="b">A</text>
<text x="0" y="0" transform="translate(309.0,90.6) scale(1.12,1)" class="b">F</text>
</svg>
</body></html>
